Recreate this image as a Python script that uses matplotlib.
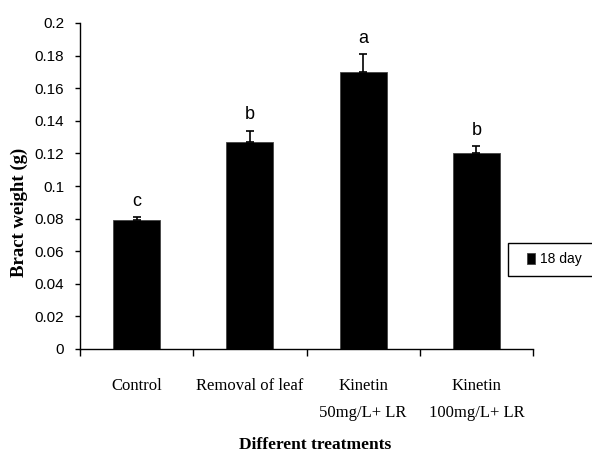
import matplotlib
matplotlib.use('Agg')
import numpy as np
import matplotlib.pyplot as plt
from matplotlib.patches import Rectangle

# bract weight after 18 days, mean and upper error per treatment
treatments = ["Control", "Removal of leaf", "Kinetin\n50mg/L+ LR", "Kinetin\n100mg/L+ LR"]
weights = [0.079, 0.127, 0.170, 0.120]
errors = [0.002, 0.007, 0.011, 0.0045]
letters = ["c", "b", "a", "b"]
series_name = "18 day"

W, H = 592, 454
fig = plt.figure(figsize=(W / 100, H / 100), dpi=100)
ax = fig.add_axes([80 / W, 1 - 349 / H, 453 / W, 326 / H])

ind = np.arange(len(treatments))
bars = ax.bar(ind, weights, width=0.415, color='black', edgecolor='#444444',
              linewidth=0.6, label=series_name, zorder=2)
ax.errorbar(ind, weights, yerr=[np.zeros(len(errors)), errors], fmt='none',
            ecolor='black', elinewidth=1.2, capsize=3, capthick=1.2, zorder=3)

for x, w, e, s in zip(ind, weights, errors, letters):
    ax.text(x, w + e + 0.0045, s, ha='center', va='bottom', fontsize=13,
            family='Liberation Sans', color='black')

ax.set_xlim(-0.5, len(treatments) - 0.5)
ax.set_ylim(0, 0.2)
ax.set_yticks(np.arange(0, 0.2001, 0.02))
ax.set_yticklabels(['0', '0.02', '0.04', '0.06', '0.08', '0.1', '0.12',
                    '0.14', '0.16', '0.18', '0.2'],
                   family='Liberation Sans', fontsize=11)

# category boundaries get the tick marks, the centres get the names
ax.set_xticks(np.arange(-0.5, len(treatments), 1.0))
ax.set_xticklabels([])
ax.set_xticks(ind, minor=True)
ax.set_xticklabels(treatments, minor=True, family='Liberation Serif',
                   fontsize=12, linespacing=1.9)
ax.tick_params(axis='x', which='major', direction='out', length=5, width=1)
ax.tick_params(axis='x', which='minor', length=0, pad=21)
ax.tick_params(axis='y', direction='out', length=3.5, width=1, pad=8)

for side in ['top', 'right']:
    ax.spines[side].set_visible(False)
for side in ['left', 'bottom']:
    ax.spines[side].set_linewidth(1)

ax.set_xlabel('Different treatments', family='Liberation Serif',
              fontweight='bold', fontsize=12.5)
ax.xaxis.set_label_coords(0.52, -0.27)
ax.set_ylabel('Bract weight (g)', family='Liberation Serif',
              fontweight='bold', fontsize=13.5)
ax.yaxis.label.set_va('center')
ax.yaxis.set_label_coords(-0.135, 0.42)

# legend box runs off the right edge of the figure
fig.add_artist(Rectangle((508 / W, 1 - 276 / H), 150 / W, 33 / H,
                         transform=fig.transFigure, facecolor='white',
                         edgecolor='black', linewidth=1, zorder=4))
leg = fig.legend(handles=[bars], labels=[series_name], loc='center left',
                 bbox_to_anchor=(527 / W, 1 - 259.5 / H), borderaxespad=0,
                 borderpad=0, frameon=False,
                 prop={'family': 'Liberation Sans', 'size': 10},
                 handlelength=0.6, handleheight=0.9, handletextpad=0.3)
leg.set_zorder(5)

fig.savefig('out.png', dpi=100)
